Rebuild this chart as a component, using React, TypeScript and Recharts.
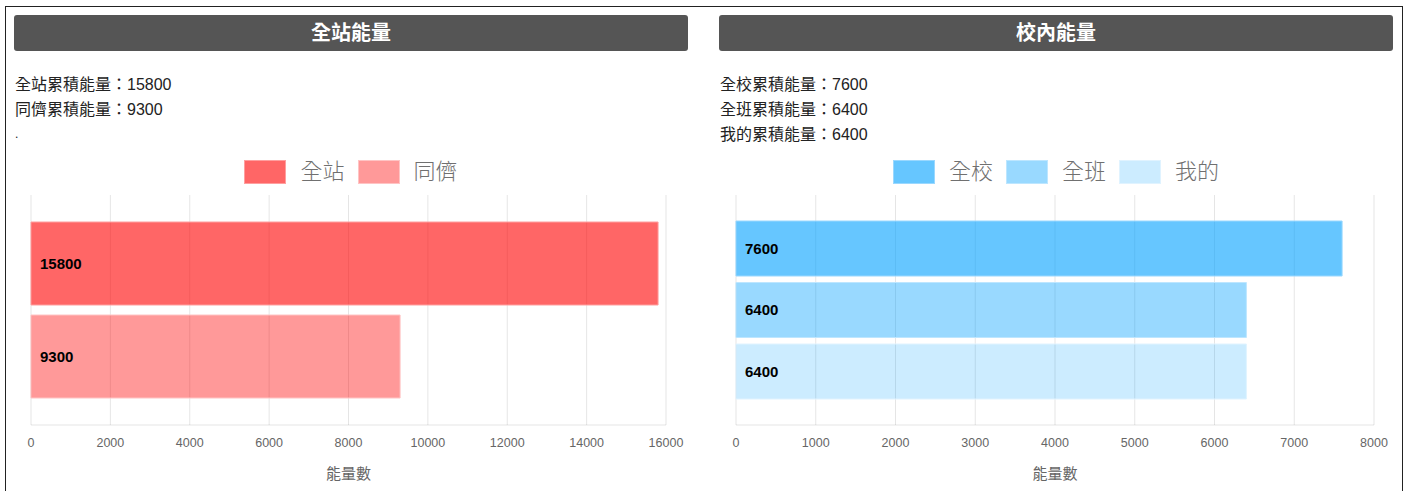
import React from 'react';
import { BarChart, Bar, XAxis, YAxis, CartesianGrid, LabelList } from 'recharts';

const leftTitle = '全站能量';
const rightTitle = '校內能量';
const leftInfo = ['全站累積能量：15800', '同儕累積能量：9300', '.'];
const rightInfo = ['全校累積能量：7600', '全班累積能量：6400', '我的累積能量：6400'];

const leftSeries = ['全站', '同儕'];
const leftValues = [15800, 9300];
const leftColors = ['rgb(255,0,0)', 'rgb(255,0,0)'];
const leftOpacity = [0.6, 0.4];
const leftStroke = ['#ff9f9f', '#ffc4c4'];
const leftTicks = [0, 2000, 4000, 6000, 8000, 10000, 12000, 14000, 16000];

const rightSeries = ['全校', '全班', '我的'];
const rightValues = [7600, 6400, 6400];
const rightColors = ['rgb(0,160,255)', 'rgb(0,160,255)', 'rgb(0,160,255)'];
const rightOpacity = [0.6, 0.4, 0.2];
const rightStroke = ['#9ad8ff', '#bde6ff', '#e0f3ff'];
const rightTicks = [0, 1000, 2000, 3000, 4000, 5000, 6000, 7000, 8000];

const axisTitle = '能量數';

const FONT = '"Liberation Sans", Arial, "Noto Sans CJK TC", sans-serif';

type PanelProps = {
  left: number;
  title: string;
  info: string[];
  series: string[];
  values: number[];
  colors: string[];
  opacity: number[];
  strokes: string[];
  ticks: number[];
  barGap: number;
  catGap: number;
};

function Panel(p: PanelProps) {
  const row: Record<string, any> = { name: '' };
  p.series.forEach((s, i) => {
    row[s] = p.values[i];
  });
  const data = [row];
  const max = p.ticks[p.ticks.length - 1];
  return (
    <div style={{ position: 'absolute', left: p.left, top: 0, width: 700, height: 491 }}>
      <div
        style={{
          position: 'absolute',
          left: 14,
          top: 15,
          width: 674,
          height: 36,
          background: '#555555',
          borderRadius: 3,
          color: '#fff',
          fontWeight: 'bold',
          fontSize: 20,
          lineHeight: '36px',
          textAlign: 'center',
          fontFamily: FONT,
        }}
      >
        {p.title}
      </div>
      <div
        style={{
          position: 'absolute',
          left: 15,
          top: 72,
          fontSize: 16,
          lineHeight: '25px',
          color: '#222',
          fontFamily: FONT,
        }}
      >
        {p.info.map((t, i) => (
          <div key={i} style={{ whiteSpace: 'nowrap', fontSize: t === '.' ? 12 : 16 }}>
            {t}
          </div>
        ))}
      </div>
      <div
        style={{
          position: 'absolute',
          left: 14,
          width: 674,
          top: 160,
          height: 24,
          display: 'flex',
          justifyContent: 'center',
          alignItems: 'center',
          fontFamily: FONT,
        }}
      >
        {p.series.map((s, i) => (
          <div key={s} style={{ display: 'flex', alignItems: 'center', marginRight: i < p.series.length - 1 ? 13 : 0 }}>
            <div
              style={{
                width: 40,
                height: 22,
                background: p.colors[i],
                border: `1px solid ${p.strokes[i]}`,
                position: 'relative',
              }}
            >
              <div style={{ position: 'absolute', inset: 0, background: '#fff', opacity: 1 - p.opacity[i] }} />
            </div>
            <span style={{ marginLeft: 14, fontSize: 22, color: '#707070', fontWeight: 300, lineHeight: '24px' }}>{s}</span>
          </div>
        ))}
      </div>
      <div style={{ position: 'absolute', left: 0, top: 190 }}>
        <BarChart
          width={700}
          height={300}
          data={data}
          layout="vertical"
          margin={{ top: 5, right: p.left === 0 ? 34 : 31, bottom: 5, left: 31 }}
          barCategoryGap={p.catGap}
          barGap={p.barGap}
        >
          <CartesianGrid horizontal={false} vertical={true} stroke="rgba(0,0,0,0.1)" />
          <XAxis
            type="number"
            domain={[0, max]}
            ticks={p.ticks}
            interval={0}
            height={60}
            tickLine={false}
            tickMargin={7}
            axisLine={{ stroke: 'rgba(0,0,0,0.1)' }}
            tick={{ fill: '#666', fontSize: 12.5, fontFamily: FONT }}
            label={{
              value: axisTitle,
              position: 'insideBottom',
              offset: 6,
              fill: '#666',
              fontSize: 15,
              fontFamily: FONT,
            }}
          />
          <YAxis
            type="category"
            dataKey="name"
            width={0}
            tick={false}
            tickLine={false}
            axisLine={{ stroke: 'rgba(0,0,0,0.25)' }}
          />
          {p.series.map((s, i) => (
            <Bar
              key={s}
              dataKey={s}
              fill={p.colors[i]}
              fillOpacity={p.opacity[i]}
              stroke={p.strokes[i]}
              strokeWidth={1}
              isAnimationActive={false}
            >
              <LabelList
                dataKey={s}
                position="insideLeft"
                offset={9}
                fill="#000"
                fontSize={15}
                fontWeight="bold"
                fontFamily={FONT}
              />
            </Bar>
          ))}
        </BarChart>
      </div>
    </div>
  );
}

export default function App() {
  return (
    <div
      style={{
        position: 'absolute',
        left: 0,
        top: 0,
        width: 1408,
        height: 491,
        overflow: 'hidden',
        background: '#fff',
        fontFamily: FONT,
      }}
    >
      <div
        style={{
          position: 'absolute',
          left: 5,
          top: 6,
          width: 1398,
          height: 520,
          border: '1px solid #222',
          boxSizing: 'border-box',
        }}
      />
      <Panel
        left={0}
        title={leftTitle}
        info={leftInfo}
        series={leftSeries}
        values={leftValues}
        colors={leftColors}
        opacity={leftOpacity}
        strokes={leftStroke}
        ticks={leftTicks}
        barGap={10}
        catGap={27}
      />
      <Panel
        left={705}
        title={rightTitle}
        info={rightInfo}
        series={rightSeries}
        values={rightValues}
        colors={rightColors}
        opacity={rightOpacity}
        strokes={rightStroke}
        ticks={rightTicks}
        barGap={6.5}
        catGap={26}
      />
    </div>
  );
}
